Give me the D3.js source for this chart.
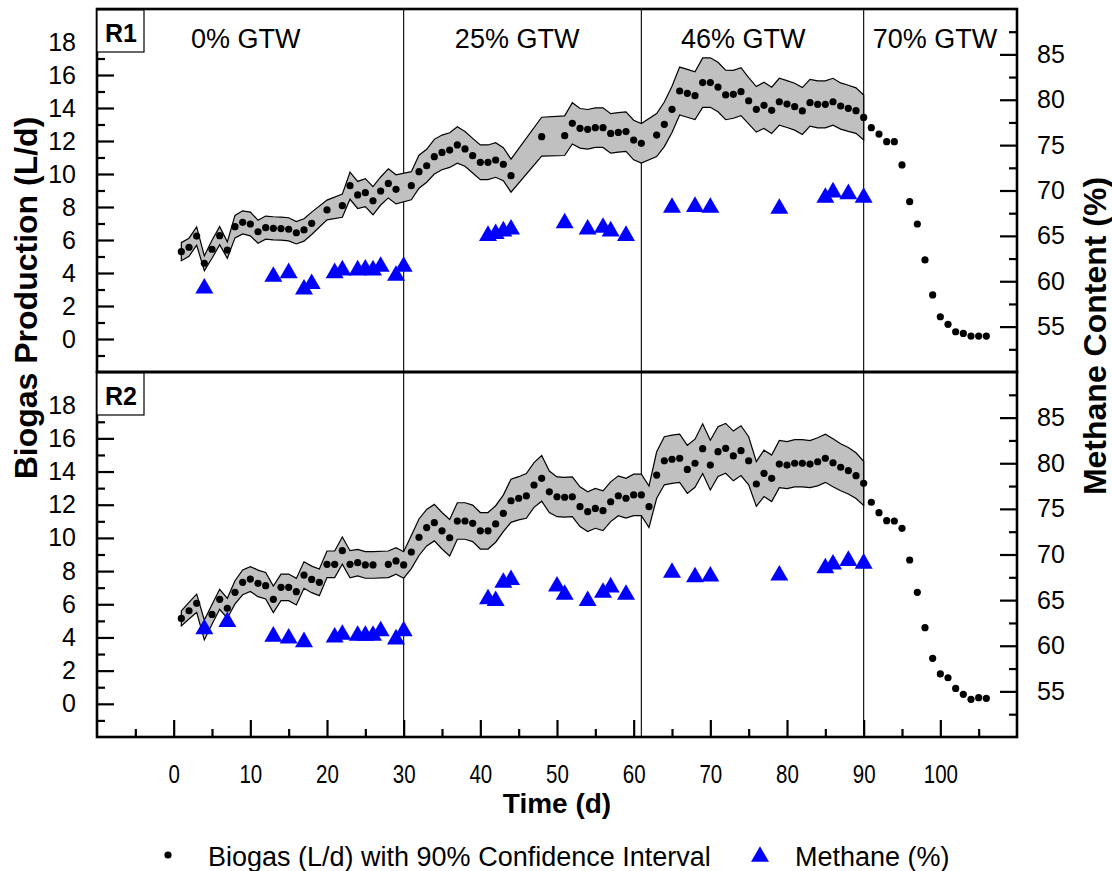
<!DOCTYPE html>
<html><head><meta charset="utf-8">
<script src="https://cdn.jsdelivr.net/npm/d3@7"></script>
<style>
body{margin:0;background:#fff;}
text{font-family:"Liberation Sans",Arial,sans-serif;fill:#000;}
</style></head><body>
<svg id="chart" width="1112" height="871"></svg>
<script>
// ---------------- DATA ----------------
const r1Days = [1,2,3,4,5,6,7,8,9,10,11,12,13,14,15,16,17,18,20,22,23,24,25,26,27,28,29,31,32,33,34,35,36,37,38,39,40,41,42,43,44,48,51,52,53,54,55,56,57,58,59,60,61,63,64,65,66,67,68,69,70,71,72,73,74,75,76,77,78,79,80,81,82,83,84,85,86,87,88,89,90,91,92,93,94,95,96,97,98,99,100,101,102,103,104,105,106];
const r1Biogas = [5.29,5.56,6.24,4.59,5.44,6.26,5.39,6.81,7.07,6.97,6.50,6.75,6.71,6.69,6.65,6.44,6.61,7.01,7.82,8.08,9.29,8.73,8.87,8.38,8.97,9.43,9.07,9.29,10.14,10.50,11.05,11.31,11.45,11.76,11.52,11.11,10.71,10.71,10.85,10.59,9.90,12.26,12.32,13.07,12.77,12.71,12.81,12.81,12.46,12.52,12.57,12.06,11.86,12.36,13.01,13.92,15.03,14.89,14.75,15.54,15.54,15.27,14.79,14.83,14.99,14.44,13.92,14.16,13.86,14.38,14.24,14.08,13.82,14.32,14.22,14.22,14.38,14.12,13.98,13.84,13.43,12.81,12.42,11.96,11.96,10.55,8.32,6.97,4.79,2.67,1.35,0.89,0.44,0.34,0.18,0.18,0.18];
// 90% confidence half-width (L/d), days 1-90 only
const r1CI = [0.55,0.55,0.55,0.45,0.55,0.55,0.5,0.68,0.7,0.72,0.7,0.7,0.7,0.7,0.7,0.68,0.68,0.68,0.6,0.7,0.82,0.82,0.85,0.85,0.85,0.88,0.88,0.85,1.0,1.0,1.05,1.05,1.05,1.1,1.05,1.05,1.05,1.05,1.05,1.0,1.0,1.18,1.2,1.25,1.2,1.2,1.2,1.2,1.2,1.2,1.2,1.2,1.2,1.3,1.35,1.4,1.45,1.45,1.45,1.5,1.5,1.5,1.5,1.45,1.45,1.4,1.38,1.4,1.4,1.42,1.42,1.42,1.42,1.42,1.42,1.42,1.42,1.4,1.4,1.38,1.36];
const r1MethDays = [4,13,15,17,18,21,22,24,25,26,27,29,30,41,42,43,44,51,54,56,57,59,65,68,70,79,85,86,88,90];
const r1Methane = [59.5,60.8,61.2,59.4,60.0,61.2,61.5,61.5,61.6,61.5,61.9,60.9,61.9,65.3,65.5,65.8,66.0,66.7,66.0,66.2,65.8,65.3,68.4,68.5,68.4,68.3,69.5,70.1,69.9,69.5];

const r2Days = [1,2,3,4,5,6,7,8,9,10,11,12,13,14,15,16,17,18,19,20,21,22,23,24,25,26,28,29,30,31,32,33,34,35,36,37,38,39,40,41,42,43,44,45,46,47,48,49,50,51,52,53,54,55,56,57,58,59,60,61,62,63,64,65,66,67,68,69,70,71,72,73,74,75,76,77,78,79,80,81,82,83,84,85,86,87,88,89,90,91,92,93,94,95,96,97,98,99,100,101,102,103,104,105,106];
const r2Biogas = [5.15,5.61,6.06,4.45,5.39,6.30,5.76,6.72,7.32,7.52,7.26,7.12,6.30,7.02,7.02,6.76,7.76,7.50,7.32,8.41,8.41,9.23,8.41,8.51,8.37,8.37,8.41,8.61,8.37,9.15,10.04,10.62,10.92,10.43,10.01,11.02,11.02,10.88,10.43,10.43,10.84,11.48,12.24,12.39,12.53,13.19,13.59,12.78,12.48,12.45,12.48,11.88,11.58,11.78,11.64,12.18,12.54,12.39,12.59,12.59,11.88,13.79,14.65,14.74,14.80,14.13,14.50,15.38,14.39,15.20,15.40,14.94,15.26,14.65,13.25,13.89,13.59,14.45,14.39,14.50,14.50,14.45,14.59,14.80,14.53,14.26,14.05,13.75,13.29,12.15,11.52,11.04,11.02,10.58,8.67,6.72,4.59,2.74,1.80,1.57,0.93,0.57,0.27,0.37,0.33];
const r2CI = [0.45,0.5,0.55,0.6,0.6,0.6,0.6,0.7,0.75,0.75,0.8,0.8,0.8,0.8,0.8,0.8,0.8,0.8,0.8,0.8,0.8,0.82,0.82,0.8,0.8,0.8,0.8,0.8,0.8,1.0,1.1,1.1,1.1,1.1,1.1,1.1,1.1,1.1,1.1,1.1,1.1,1.1,1.3,1.3,1.35,1.35,1.38,1.25,1.2,1.2,1.2,1.2,1.2,1.2,1.2,1.2,1.2,1.2,1.25,1.25,1.25,1.4,1.45,1.45,1.45,1.45,1.45,1.5,1.5,1.5,1.5,1.5,1.5,1.45,1.35,1.4,1.4,1.42,1.42,1.42,1.42,1.42,1.45,1.45,1.45,1.42,1.4,1.38,1.33];
const r2MethDays = [4,7,13,15,17,21,22,24,25,26,27,29,30,41,42,43,44,50,51,54,56,57,59,65,68,70,79,85,86,88,90];
const r2Methane = [62.1,62.9,61.3,61.1,60.7,61.2,61.5,61.4,61.4,61.4,61.9,61.0,61.9,65.4,65.2,67.2,67.5,66.8,65.9,65.2,66.1,66.7,65.9,68.3,67.8,67.9,68.0,68.8,69.2,69.6,69.3];

const phaseLabels = ["0% GTW","25% GTW","46% GTW","70% GTW"];
const phaseBoundaries = [30, 61, 90];
const panelNames = ["R1","R2"];
const xTickValues = [0,10,20,30,40,50,60,70,80,90,100];
const biogasTickValues = [0,2,4,6,8,10,12,14,16,18];
const methaneTickValues = [55,60,65,70,75,80,85];
const legendLabels = ["Biogas (L/d) with 90% Confidence Interval","Methane (%)"];

// ---------------- LAYOUT ----------------
const svg = d3.select("#chart");
const L = 97, R = 1017;
const panelBox = [{top:9,bottom:372},{top:372,bottom:737}];
const phaseLabelAt = [9.4, 44.8, 74.3, 99.3];
const x = d3.scaleLinear().domain([-10,110]).range([L,R]);

const triangle = {draw(ctx,size){
  const s=Math.sqrt(size*4/Math.sqrt(3)), h=s*Math.sqrt(3)/2;
  ctx.moveTo(0,-h/2); ctx.lineTo(s/2,h/2); ctx.lineTo(-s/2,h/2); ctx.closePath();
}};
const triPath = d3.symbol().type(triangle).size(140)();

const series = [
  {days:r1Days, bio:r1Biogas, ci:r1CI, mDays:r1MethDays, meth:r1Methane},
  {days:r2Days, bio:r2Biogas, ci:r2CI, mDays:r2MethDays, meth:r2Methane}
];

function minorRange(a,b,step){const o=[];for(let v=a;v<=b+1e-9;v+=step)o.push(+v.toFixed(2));return o;}

series.forEach((s,pi)=>{
  const pb = panelBox[pi];
  const yB = d3.scaleLinear().domain([-2,20]).range([pb.bottom,pb.top]);
  const yM = d3.scaleLinear().domain([50,90]).range([pb.bottom,pb.top]);
  const g = svg.append("g");

  g.selectAll("line.phase").data(phaseBoundaries).join("line")
    .attr("x1",d=>x(d)).attr("x2",d=>x(d)).attr("y1",pb.top).attr("y2",pb.bottom)
    .attr("stroke","#000").attr("stroke-width",1.1);

  const band = s.ci.map((c,i)=>({d:s.days[i], lo:s.bio[i]-c, hi:s.bio[i]+c}));
  g.append("path").datum(band)
    .attr("d", d3.area().x(d=>x(d.d)).y0(d=>yB(d.lo)).y1(d=>yB(d.hi)))
    .attr("fill","#c0c0c0").attr("stroke","#000").attr("stroke-width",1.2).attr("stroke-linejoin","miter");

  g.selectAll("circle").data(s.days.map((d,i)=>({d, v:s.bio[i]}))).join("circle")
    .attr("cx",d=>x(d.d)).attr("cy",d=>yB(d.v)).attr("r",3.6).attr("fill","#000");

  g.selectAll("path.tri").data(s.mDays.map((d,i)=>({d, v:s.meth[i]}))).join("path")
    .attr("class","tri").attr("d",triPath)
    .attr("transform",d=>`translate(${x(d.d)},${yM(d.v)})`).attr("fill","#0000ff");

  const ax = svg.append("g");
  const leftMajor = ax.append("g").attr("transform",`translate(${L},0)`)
    .call(d3.axisLeft(yB).tickValues(biogasTickValues).tickSizeInner(-17).tickSizeOuter(0).tickPadding(21));
  const leftMinor = ax.append("g").attr("transform",`translate(${L},0)`)
    .call(d3.axisLeft(yB).tickValues(minorRange(-1,19,2)).tickSize(-8).tickFormat(""));
  const rightMajor = ax.append("g").attr("transform",`translate(${R},0)`)
    .call(d3.axisRight(yM).tickValues(methaneTickValues).tickSizeInner(-17).tickSizeOuter(0).tickPadding(20));
  const rightMinor = ax.append("g").attr("transform",`translate(${R},0)`)
    .call(d3.axisRight(yM).tickValues(minorRange(52.5,87.5,5)).tickSize(-8).tickFormat(""));
  [leftMajor,leftMinor,rightMajor,rightMinor].forEach(a=>{
    a.select(".domain").remove();
    a.selectAll("line").attr("stroke","#000").attr("stroke-width",2.2);
    a.selectAll("text").style("font-size","25px").style("font-family","'Liberation Sans',Arial,sans-serif").attr("fill","#000");
  });

  if(pi===1){
    const bMajor = ax.append("g").attr("transform",`translate(0,${pb.bottom})`)
      .call(d3.axisBottom(x).tickValues(xTickValues).tickSizeInner(-17).tickSizeOuter(0).tickPadding(28));
    const bMinor = ax.append("g").attr("transform",`translate(0,${pb.bottom})`)
      .call(d3.axisBottom(x).tickValues(minorRange(-5,105,10)).tickSize(-8).tickFormat(""));
    [bMajor,bMinor].forEach(a=>{
      a.select(".domain").remove();
      a.selectAll("line").attr("stroke","#000").attr("stroke-width",2.2);
    });
    bMajor.selectAll("text").style("font-size","25px").style("font-family","'Liberation Sans',Arial,sans-serif")
      .attr("fill","#000").attr("transform","scale(0.82,1)");
  }

  svg.append("rect").attr("x",L).attr("y",pb.top).attr("width",R-L).attr("height",pb.bottom-pb.top)
    .attr("fill","none").attr("stroke","#000").attr("stroke-width",2.6);

  svg.append("rect").attr("x",L).attr("y",pb.top+1).attr("width",47).attr("height",42)
    .attr("fill","#fff").attr("stroke","#000").attr("stroke-width",1.2);
  svg.append("text").attr("x",L+24).attr("y",pb.top+33).attr("text-anchor","middle")
    .style("font-size","25px").style("font-weight","bold").text(panelNames[pi]);
});

svg.selectAll("text.phase").data(phaseLabels).join("text").attr("class","phase")
  .attr("x",(d,i)=>x(phaseLabelAt[i])).attr("y",48).attr("text-anchor","middle")
  .style("font-size","27px").text(d=>d);

svg.append("text").attr("transform","translate(37,298) rotate(-90)").attr("text-anchor","middle")
  .style("font-size","32px").style("font-weight","bold").text("Biogas Production (L/d)");
svg.append("text").attr("transform","translate(1106,336) rotate(-90)").attr("text-anchor","middle")
  .style("font-size","32px").style("font-weight","bold").text("Methane Content (%)");
svg.append("text").attr("x",(L+R)/2).attr("y",813).attr("text-anchor","middle")
  .style("font-size","28px").style("font-weight","bold").text("Time (d)");

const lg = svg.append("g");
lg.append("circle").attr("cx",168).attr("cy",855).attr("r",3.6).attr("fill","#000");
lg.append("text").attr("x",208).attr("y",866).style("font-size","27px").text(legendLabels[0]);
lg.append("path").attr("d",triPath).attr("transform","translate(760,854)").attr("fill","#0000ff");
lg.append("text").attr("x",795).attr("y",866).style("font-size","27px").text(legendLabels[1]);
</script>
</body></html>
